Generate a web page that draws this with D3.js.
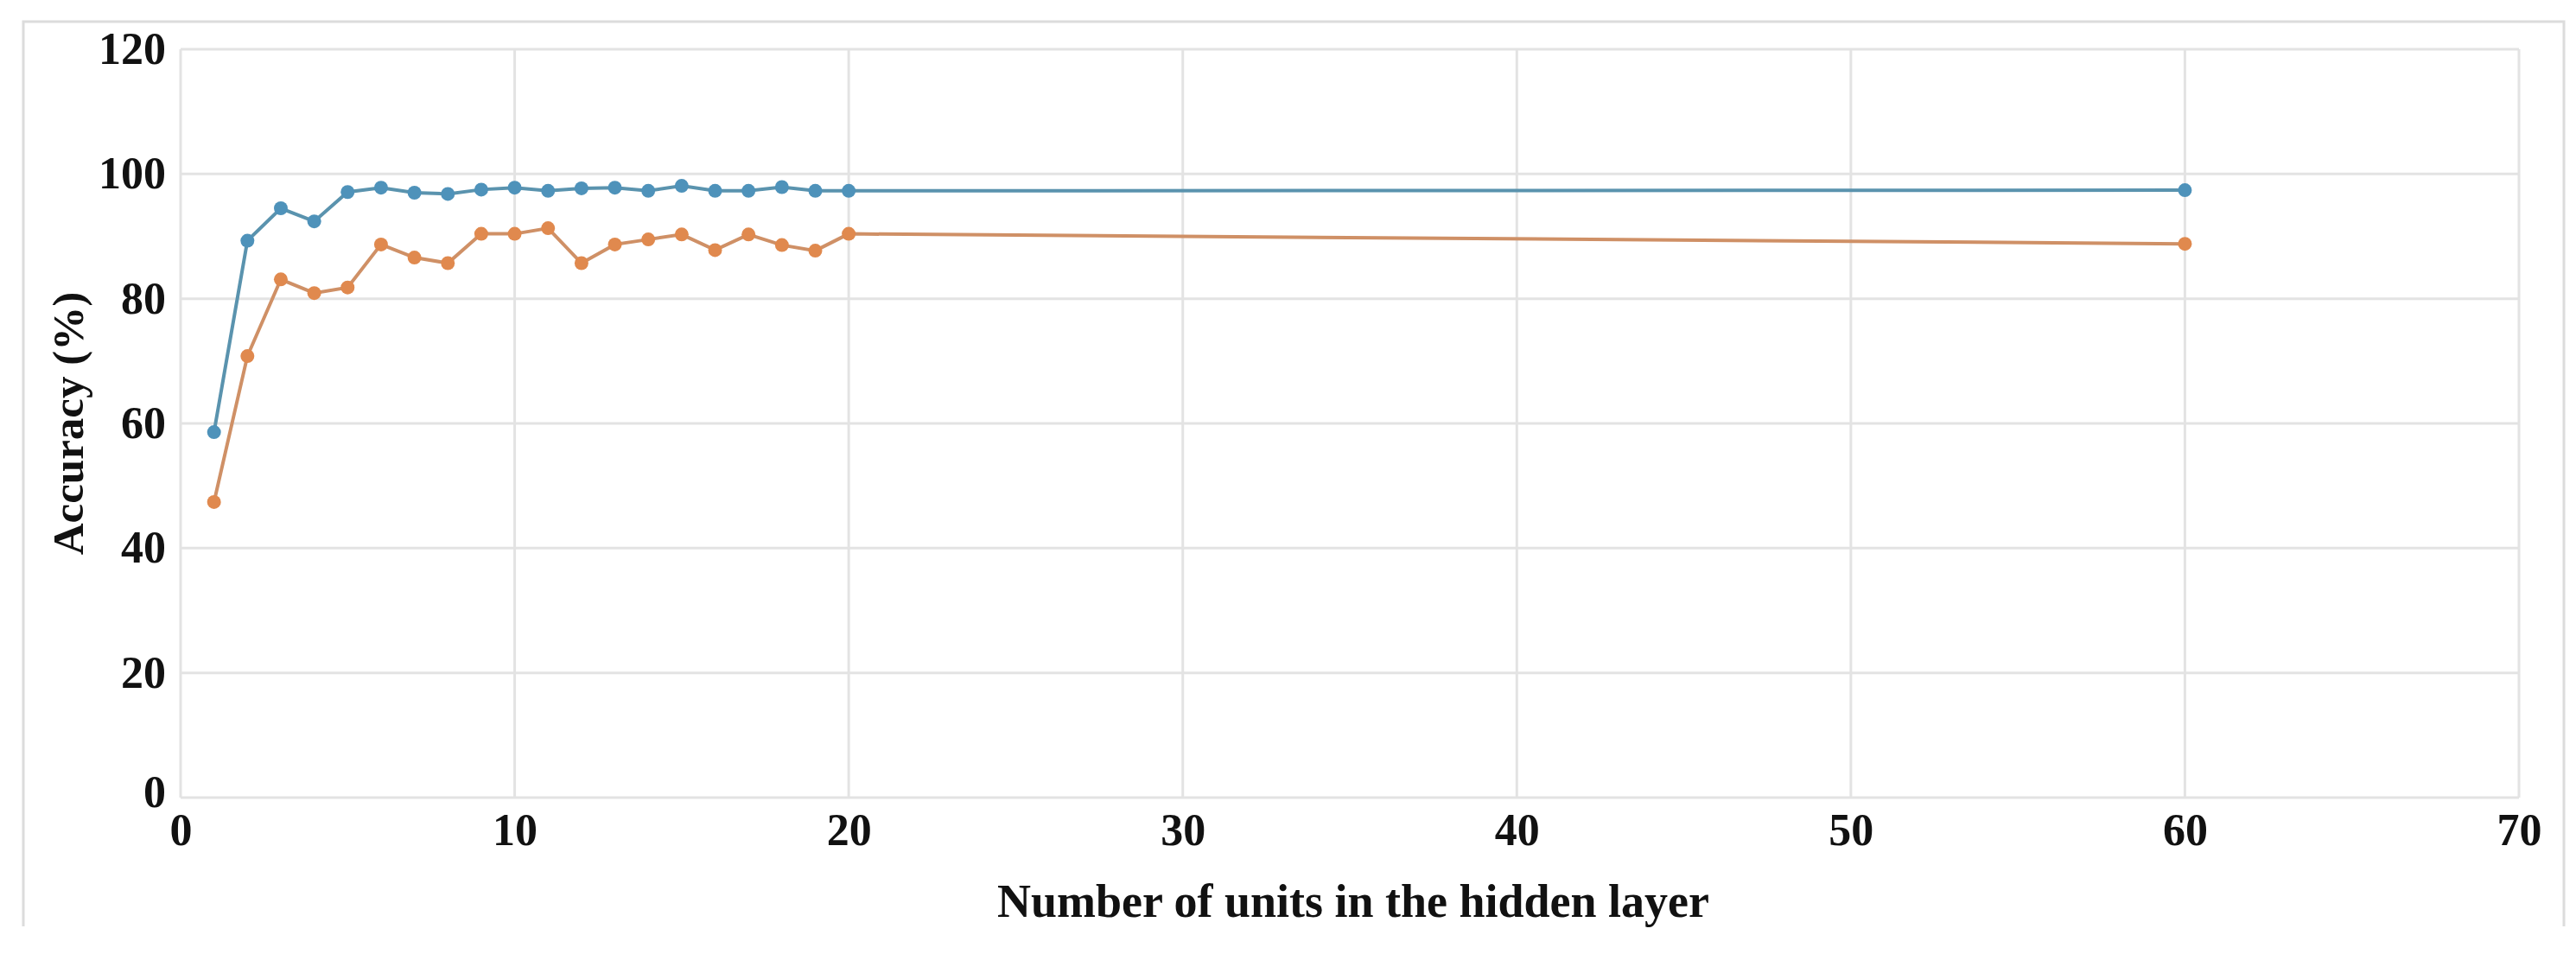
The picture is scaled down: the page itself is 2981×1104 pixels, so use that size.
<!DOCTYPE html>
<html>
<head>
<meta charset="utf-8">
<script src="https://cdn.jsdelivr.net/npm/d3@7"></script>
<style>
  body { margin: 0; background: #fff; }
  text { font-family: "Liberation Serif", "Times New Roman", serif; font-weight: bold; fill: #111; }
</style>
</head>
<body>
<svg id="chart"></svg>
<script>
// hidden-layer sizes and the two accuracy curves (%)
const units = [1, 2, 3, 4, 5, 6, 7, 8, 9, 10, 11, 12, 13, 14, 15, 16, 17, 18, 19, 20, 60];
const blueAcc = [58.6, 89.3, 94.5, 92.4, 97.1, 97.8, 97.0, 96.8, 97.5, 97.8, 97.3, 97.7, 97.8, 97.3, 98.1, 97.3, 97.3, 97.9, 97.3, 97.3, 97.4];
const orangeAcc = [47.4, 70.8, 83.1, 80.9, 81.8, 88.7, 86.6, 85.7, 90.4, 90.4, 91.3, 85.7, 88.7, 89.5, 90.3, 87.8, 90.3, 88.6, 87.7, 90.4, 88.8];
const xTicks = [0, 10, 20, 30, 40, 50, 60, 70];
const yTicks = [0, 20, 40, 60, 80, 100, 120];

const W = 2981, H = 1104;
const margin = {top: 57, right: 66, bottom: 181, left: 209};

const svg = d3.select('#chart')
    .attr('width', W)
    .attr('height', H);

// outer frame (no bottom edge)
svg.append('path')
    .attr('d', `M27,1072 V25 H2967 V1072`)
    .attr('fill', 'none')
    .attr('stroke', '#dcdcdc')
    .attr('stroke-width', 3);

const xScale = d3.scaleLinear()
    .domain([0, 70])
    .range([margin.left, W - margin.right]);

const yScale = d3.scaleLinear()
    .domain([0, 120])
    .range([H - margin.bottom, margin.top]);

// gridlines
const grid = svg.append('g').attr('class', 'grid');
grid.selectAll('.hgrid')
    .data(yTicks)
    .join('line')
    .attr('class', 'hgrid')
    .attr('x1', xScale(0)).attr('x2', xScale(70))
    .attr('y1', d => yScale(d)).attr('y2', d => yScale(d))
    .attr('stroke', '#e3e3e3')
    .attr('stroke-width', 3);

grid.selectAll('.vgrid')
    .data(xTicks)
    .join('line')
    .attr('class', 'vgrid')
    .attr('x1', d => xScale(d)).attr('x2', d => xScale(d))
    .attr('y1', yScale(0)).attr('y2', yScale(120))
    .attr('stroke', '#e3e3e3')
    .attr('stroke-width', 3);

// axes
const xAxis = d3.axisBottom(xScale).tickValues(xTicks).tickSize(0).tickPadding(18);
const yAxis = d3.axisLeft(yScale).tickValues(yTicks).tickSize(0).tickPadding(17);

const xAxisG = svg.append('g')
    .attr('transform', `translate(0,${yScale(0)})`)
    .call(xAxis);
const yAxisG = svg.append('g')
    .attr('transform', `translate(${xScale(0)},0)`)
    .call(yAxis);

[xAxisG, yAxisG].forEach(g => {
    g.select('.domain').remove();
    g.selectAll('text')
        .attr('font-size', 52)
        .attr('font-family', '"Liberation Serif", serif')
        .attr('font-weight', 'bold')
        .attr('fill', '#111');
});
// the y "0" sits a touch lower in the reference
yAxisG.selectAll('.tick')
    .filter(d => d === 0)
    .select('text')
    .attr('dy', '0.2em');

// axis titles
svg.append('text')
    .attr('x', (xScale(0) + xScale(70)) / 2 + 4)
    .attr('y', 1061)
    .attr('text-anchor', 'middle')
    .attr('font-size', 54)
    .text('Number of units in the hidden layer');

svg.append('text')
    .attr('transform', `translate(78,${(yScale(0) + yScale(120)) / 2}) rotate(-90)`)
    .attr('text-anchor', 'middle')
    .attr('dy', '0.35em')
    .attr('font-size', 51)
    .text('Accuracy (%)');

// series
const series = [
    {values: blueAcc, color: '#4e92ba', lineColor: '#5a93ae'},
    {values: orangeAcc, color: '#e0894e', lineColor: '#cf9066'}
];

const line = d3.line()
    .x(d => xScale(d[0]))
    .y(d => yScale(d[1]));

series.forEach((s, i) => {
    const pts = units.map((u, j) => [u, s.values[j]]);
    svg.append('path')
        .datum(pts)
        .attr('fill', 'none')
        .attr('stroke', s.lineColor)
        .attr('stroke-width', 4)
        .attr('d', line);

    svg.selectAll(`.dot-${i}`)
        .data(pts)
        .join('circle')
        .attr('class', `dot-${i}`)
        .attr('cx', d => xScale(d[0]))
        .attr('cy', d => yScale(d[1]))
        .attr('r', 8)
        .attr('fill', s.color);
});
</script>
</body>
</html>
